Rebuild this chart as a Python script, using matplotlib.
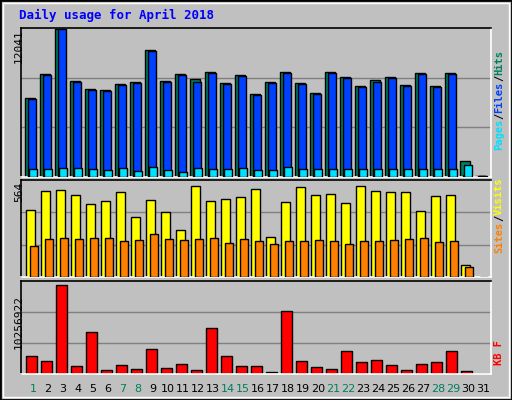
import matplotlib
matplotlib.use("Agg")
import matplotlib.pyplot as plt
import numpy as np
from matplotlib.patches import Rectangle

days = list(range(1, 32))
hits = [6390,8354,12041,7781,7126,7044,7535,7699,10320,7781,8354,7945,8518,7617,8272,6716,
        7699,8518,7617,6798,8518,8109,7371,7863,8109,7453,8436,7371,8436,1310,80]
files = [6330,8300,11990,7730,7080,6990,7480,7650,10270,7730,8300,7700,8460,7570,8220,6670,
         7650,8460,7570,6750,8460,8060,7330,7700,8060,7410,8390,7330,8390,200,60]
pages = [655,655,740,740,655,570,740,490,820,570,410,740,655,655,740,570,
         570,820,655,655,655,655,655,655,655,655,655,655,655,950,80]
visits = [399,510,515,486,434,451,504,358,457,387,276,539,451,463,475,521,
          235,445,533,486,492,440,539,510,504,504,393,480,486,72,0]
sites = [183,224,230,224,230,230,212,218,253,224,218,224,230,200,224,212,
         194,212,212,218,212,194,212,212,218,224,230,206,212,58,0]
kb_px = [55,40,274,25,130,13,28,16,76,19,31,13,142,55,25,25,7,193,40,22,16,70,37,43,28,13,31,37,70,10,0]
kbytes = [round(p / 274 * 10256922) for p in kb_px]
weekend = {1, 7, 8, 14, 15, 21, 22, 28, 29}

BG = "#C0C0C0"
W, H = 512, 400
fig = plt.figure(figsize=(5.12, 4.0), dpi=100, facecolor=BG)
mono = "DejaVu Sans Mono"

def rect(x0, y0, x1, y1):
    return [x0 / W, 1 - y1 / H, (x1 - x0) / W, (y1 - y0) / H]

x = np.array(days)
xl = (0.2, 31.53)

def style(ax, top):
    ax.set_facecolor(BG)
    ax.set_xlim(*xl)
    ax.set_ylim(0, top)
    ax.set_xticks([]); ax.set_yticks([])
    for s in ("top", "left"):
        ax.spines[s].set_color("black")
    for s in ("bottom", "right"):
        ax.spines[s].set_color("white")
    for s in ax.spines.values():
        s.set_linewidth(1.2)

ax1 = fig.add_axes(rect(21, 28, 491, 177))
top1 = 12041 * 1.005
style(ax1, top1)
for g in (top1 / 3, 2 * top1 / 3):
    ax1.axhline(g, color="#808080", lw=1, zorder=0)
ax1.bar(x - 0.2, hits, width=0.62, color="#00805C", edgecolor="black", lw=1, zorder=2)
ax1.bar(x - 0.07, files, width=0.5, color="#0040FF", edgecolor="black", lw=1, zorder=3)
ax1.bar(x + 0.0, pages, width=0.5, color="#00E0FF", edgecolor="black", lw=1, zorder=4)
fig.text(14 / W, 1 - 46 / H, "12041", rotation=90, ha="left", va="center", fontsize=8, family=mono)

ax2 = fig.add_axes(rect(21, 180, 491, 277))
top2 = 564 * 1.02
style(ax2, top2)
for g in (top2 / 3, 2 * top2 / 3):
    ax2.axhline(g, color="#808080", lw=1, zorder=0)
ax2.bar(x - 0.2, visits, width=0.6, color="#FFFF00", edgecolor="black", lw=1, zorder=2)
ax2.bar(x + 0.07, sites, width=0.53, color="#FF8000", edgecolor="black", lw=1, zorder=3)
fig.text(14 / W, 1 - 192 / H, "564", rotation=90, ha="left", va="center", fontsize=8, family=mono)

ax3 = fig.add_axes(rect(21, 281, 491, 374))
top3 = 10256922 * 1.04
style(ax3, top3)
for g in (top3 / 3, 2 * top3 / 3):
    ax3.axhline(g, color="#808080", lw=1, zorder=0)
ax3.bar(x - 0.1, kbytes, width=0.72, color="#FF0000", edgecolor="black", lw=1, zorder=2)
fig.text(14 / W, 1 - 322 / H, "10256922", rotation=90, ha="left", va="center", fontsize=8, family=mono)

for d in days:
    px = 21 + (d - xl[0]) / (xl[1] - xl[0]) * 470
    fig.text(px / W, 1 - 389 / H, str(d), ha="center", va="center", fontsize=8,
             color="#00805C" if d in weekend else "black")

fig.text(19 / W, 1 - 15 / H, "Daily usage for April 2018", ha="left", va="center",
         fontsize=9, fontweight="bold", family=mono, color="#0000FF")

def vlabel(parts, ycenter, fs=7.5):
    ch = 0.602 * fs * 100 / 72
    total = sum(len(p[0]) for p in parts)
    y = ycenter + total * ch / 2
    for t, c in parts:
        fig.text(499 / W, 1 - y / H, t, rotation=90, ha="center", va="bottom",
                 fontsize=fs, family=mono, fontweight="bold", color=c)
        y -= len(t) * ch

vlabel([("Pages", "#00E0FF"), ("/", "black"), ("Files", "#0040FF"), ("/", "black"), ("Hits", "#00805C")], 100)
vlabel([("Sites", "#FF8000"), ("/", "black"), ("Visits", "#FFFF00")], 215)
vlabel([("KB F", "#FF0000")], 352)

fig.patches.append(Rectangle((0, 0), 1, 1, transform=fig.transFigure, fill=False, ec="black", lw=2))
fig.patches.append(Rectangle((3 / W, 3 / H), 1 - 6 / W, 1 - 6 / H, transform=fig.transFigure,
                             fill=False, ec="white", lw=1))

fig.savefig("out.png", dpi=100, facecolor=BG)
